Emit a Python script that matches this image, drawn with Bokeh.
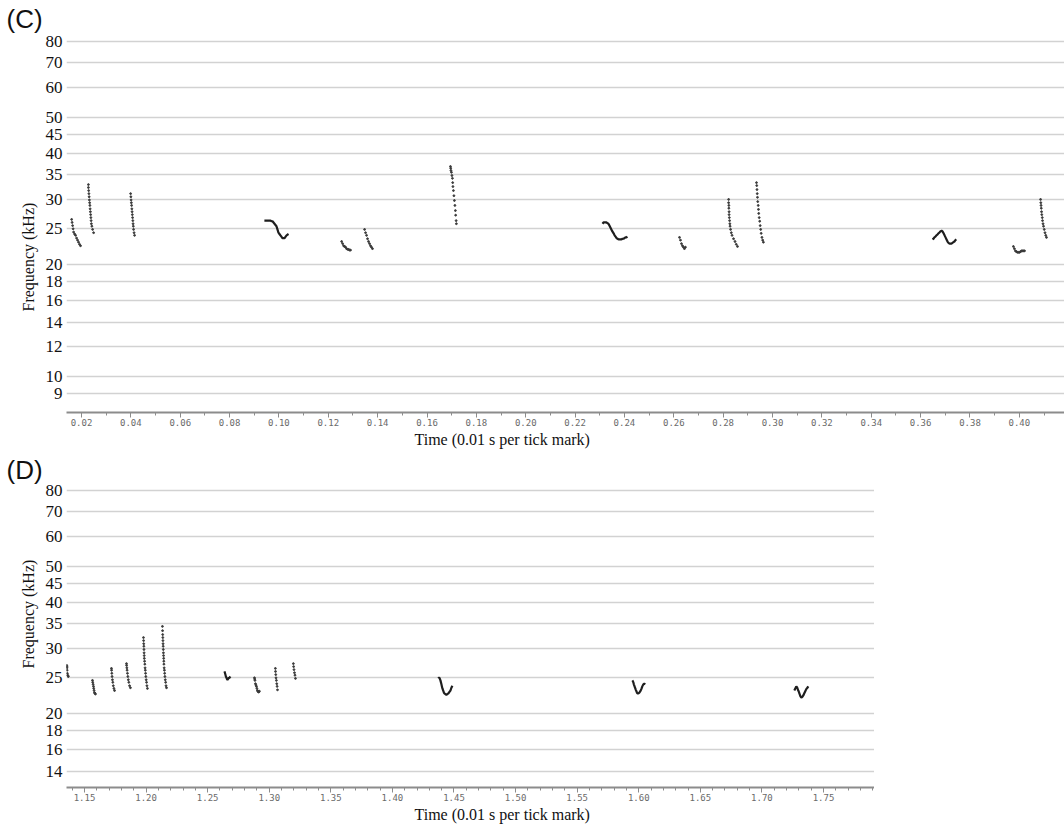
from bokeh.plotting import figure
from bokeh.models import (FixedTicker, SingleIntervalTicker, PrintfTickFormatter,
                          Title, Range1d)
from bokeh.layouts import column
from bokeh.embed import file_html
from bokeh.resources import INLINE

# ---------------------------------------------------------------------------
# Frequency grid (kHz) for the two sonogram panels
c_freq_ticks = [9, 10, 12, 14, 16, 18, 20, 25, 30, 35, 40, 45, 50, 60, 70, 80]
d_freq_ticks = [14, 16, 18, 20, 25, 30, 35, 40, 45, 50, 60, 70, 80]

# Panel C: each call is a list of pulse times (s) and frequencies (kHz)
c_times = [
    [0.0160, 0.0162, 0.0164, 0.0166, 0.0168, 0.0172, 0.0176, 0.0180, 0.0184, 0.0188, 0.0192, 0.0196],
    [0.0228, 0.0228, 0.0229, 0.0230, 0.0231, 0.0232, 0.0233, 0.0234, 0.0235, 0.0236, 0.0237, 0.0238,
     0.0239, 0.0240, 0.0242, 0.0245, 0.0249],
    [0.0399, 0.0400, 0.0401, 0.0402, 0.0403, 0.0404, 0.0405, 0.0406, 0.0407, 0.0408, 0.0409, 0.0410,
     0.0411, 0.0413, 0.0415],
    [0.0941, 0.0945, 0.0950, 0.0954, 0.0958, 0.0962, 0.0966, 0.0970, 0.0974, 0.0978, 0.0982, 0.0986,
     0.0990, 0.0994, 0.0998, 0.1002, 0.1006, 0.1010, 0.1014, 0.1019, 0.1023, 0.1027, 0.1031, 0.1035, 0.1039],
    [0.1254, 0.1258, 0.1262, 0.1266, 0.1270, 0.1274, 0.1278, 0.1282, 0.1286, 0.1290],
    [0.1347, 0.1351, 0.1355, 0.1359, 0.1363, 0.1367, 0.1371, 0.1375, 0.1379],
    [0.1695, 0.1696, 0.1697, 0.1699, 0.1701, 0.1703, 0.1704, 0.1705, 0.1707, 0.1709, 0.1711, 0.1713,
     0.1715, 0.1716, 0.1718, 0.1719],
    [0.2311, 0.2315, 0.2319, 0.2323, 0.2327, 0.2331, 0.2335, 0.2339, 0.2343, 0.2347, 0.2351, 0.2356,
     0.2360, 0.2364, 0.2368, 0.2372, 0.2376, 0.2380, 0.2384, 0.2388, 0.2392, 0.2396, 0.2400, 0.2404,
     0.2408, 0.2412],
    [0.2623, 0.2627, 0.2631, 0.2635, 0.2639, 0.2643, 0.2647],
    [0.2822, 0.2822, 0.2823, 0.2823, 0.2824, 0.2824, 0.2825, 0.2826, 0.2827, 0.2828, 0.2830, 0.2833,
     0.2836, 0.2842, 0.2848, 0.2853, 0.2858],
    [0.2935, 0.2936, 0.2937, 0.2938, 0.2939, 0.2940, 0.2942, 0.2943, 0.2944, 0.2946, 0.2948, 0.2950,
     0.2952, 0.2954, 0.2957, 0.2960, 0.2963],
    [0.3648, 0.3652, 0.3656, 0.3660, 0.3664, 0.3668, 0.3672, 0.3676, 0.3680, 0.3685, 0.3689, 0.3693,
     0.3697, 0.3701, 0.3705, 0.3709, 0.3713, 0.3717, 0.3721, 0.3725, 0.3729, 0.3733, 0.3737, 0.3741, 0.3745],
    [0.3976, 0.3980, 0.3984, 0.3988, 0.3992, 0.3997, 0.4001, 0.4005, 0.4009, 0.4013, 0.4017, 0.4021],
    [0.4086, 0.4087, 0.4088, 0.4089, 0.4090, 0.4091, 0.4093, 0.4094, 0.4096, 0.4098, 0.4101, 0.4104,
     0.4107, 0.4110],
]
c_freqs = [
    [26.5, 26.0, 25.5, 25.0, 24.5, 24.2, 24.0, 23.6, 23.3, 23.0, 22.7, 22.5],
    [32.9, 32.3, 31.7, 31.1, 30.5, 29.9, 29.4, 28.9, 28.3, 27.8, 27.3, 26.8, 26.3, 25.8, 25.4, 24.9, 24.4],
    [31.1, 30.5, 29.9, 29.4, 28.9, 28.3, 27.8, 27.3, 26.8, 26.3, 25.8, 25.4, 24.9, 24.4, 24.0],
    [26.3, 26.3, 26.3, 26.3, 26.3, 26.3, 26.3, 26.2, 26.2, 26.0, 25.8, 25.6, 25.4, 24.9, 24.4, 24.2,
     24.0, 23.8, 23.6, 23.6, 23.6, 23.8, 24.0, 24.1, 24.2],
    [23.1, 22.8, 22.5, 22.4, 22.3, 22.1, 22.0, 22.0, 21.9, 21.9],
    [24.9, 24.4, 24.0, 23.5, 23.1, 22.8, 22.5, 22.3, 22.1],
    [36.8, 36.4, 35.9, 35.5, 34.8, 34.2, 33.3, 32.5, 31.7, 30.7, 29.8, 28.9, 28.0, 27.2, 26.3, 25.8],
    [25.8, 26.0, 26.0, 26.0, 26.0, 25.9, 25.8, 25.5, 25.2, 24.9, 24.6, 24.3, 24.0, 23.8, 23.6, 23.5,
     23.4, 23.4, 23.4, 23.4, 23.5, 23.5, 23.6, 23.7, 23.7, 23.8],
    [23.7, 23.3, 22.8, 22.5, 22.3, 22.1, 22.3],
    [30.0, 29.4, 28.9, 28.4, 27.8, 27.3, 26.8, 26.3, 25.8, 25.4, 24.9, 24.4, 24.0, 23.5, 23.1, 22.7, 22.4],
    [33.3, 32.7, 31.9, 31.1, 30.4, 29.6, 28.9, 28.2, 27.5, 26.8, 26.2, 25.5, 24.9, 24.3, 23.7, 23.3, 23.0],
    [23.4, 23.5, 23.7, 23.8, 24.0, 24.1, 24.3, 24.4, 24.6, 24.7, 24.6, 24.3, 24.0, 23.7, 23.4, 23.1,
     22.9, 22.8, 22.8, 22.8, 22.9, 23.0, 23.1, 23.3, 23.4],
    [22.4, 22.1, 21.8, 21.7, 21.6, 21.6, 21.6, 21.7, 21.8, 21.8, 21.8, 21.8],
    [30.0, 29.4, 28.9, 28.4, 27.8, 27.3, 26.8, 26.3, 25.8, 25.4, 24.9, 24.4, 24.0, 23.7],
]
# calls traced as a continuous contour rather than separate pulses
c_dense = [False, False, False, True, False, False, False, True, False, False, False, True, False, False]

# Panel D
d_times = [
    [1.1356, 1.1357, 1.1358, 1.1359, 1.1361, 1.1363, 1.1366, 1.1369],
    [1.1565, 1.1567, 1.1570, 1.1573, 1.1575, 1.1578, 1.1581, 1.1585, 1.1589],
    [1.1719, 1.1720, 1.1722, 1.1724, 1.1727, 1.1730, 1.1734, 1.1739, 1.1744],
    [1.1841, 1.1842, 1.1844, 1.1846, 1.1849, 1.1852, 1.1856, 1.1860, 1.1866, 1.1873],
    [1.1979, 1.1980, 1.1981, 1.1982, 1.1983, 1.1984, 1.1985, 1.1986, 1.1988, 1.1990, 1.1992, 1.1994,
     1.1996, 1.1998, 1.2001, 1.2004, 1.2007, 1.2011],
    [1.2133, 1.2134, 1.2135, 1.2136, 1.2137, 1.2138, 1.2139, 1.2140, 1.2141, 1.2142, 1.2143, 1.2144,
     1.2145, 1.2147, 1.2149, 1.2151, 1.2153, 1.2156, 1.2159, 1.2162, 1.2166],
    [1.2636, 1.2640, 1.2644, 1.2648, 1.2653, 1.2657, 1.2661, 1.2665, 1.2669, 1.2673, 1.2677, 1.2681, 1.2685],
    [1.2880, 1.2882, 1.2884, 1.2888, 1.2892, 1.2896, 1.2900, 1.2904, 1.2908, 1.2912, 1.2916, 1.2920],
    [1.3050, 1.3051, 1.3053, 1.3055, 1.3058, 1.3061, 1.3064, 1.3067],
    [1.3196, 1.3198, 1.3201, 1.3205, 1.3209, 1.3213],
    [1.4373, 1.4377, 1.4381, 1.4386, 1.4390, 1.4394, 1.4398, 1.4402, 1.4406, 1.4410, 1.4414, 1.4418,
     1.4422, 1.4430, 1.4438, 1.4446, 1.4455, 1.4463, 1.4471, 1.4479, 1.4487],
    [1.5948, 1.5952, 1.5956, 1.5960, 1.5964, 1.5968, 1.5972, 1.5976, 1.5981, 1.5985, 1.5989, 1.5997,
     1.6005, 1.6013, 1.6021, 1.6029, 1.6037, 1.6045, 1.6053],
    [1.7263, 1.7271, 1.7279, 1.7287, 1.7295, 1.7300, 1.7304, 1.7308, 1.7312, 1.7316, 1.7320, 1.7328,
     1.7336, 1.7344, 1.7352, 1.7360, 1.7369, 1.7377],
]
d_freqs = [
    [27.0, 26.8, 26.6, 26.2, 25.7, 25.4, 25.3, 25.2],
    [24.6, 24.3, 24.0, 23.7, 23.4, 23.1, 22.8, 22.7, 22.6],
    [26.5, 26.2, 25.7, 25.2, 24.7, 24.3, 23.8, 23.4, 23.1],
    [27.3, 27.0, 26.6, 26.2, 25.7, 25.2, 24.7, 24.3, 23.8, 23.5],
    [32.1, 31.5, 30.9, 30.4, 29.8, 29.2, 28.7, 28.2, 27.7, 27.2, 26.6, 26.2, 25.7, 25.2, 24.7, 24.3, 23.8, 23.4],
    [34.4, 33.5, 32.7, 32.1, 31.5, 30.9, 30.4, 29.8, 29.2, 28.7, 28.2, 27.7, 27.2, 26.6, 26.2, 25.7,
     25.2, 24.7, 24.3, 23.8, 23.5],
    [26.0, 25.8, 25.5, 25.2, 25.0, 24.8, 24.7, 24.8, 24.9, 25.0, 25.0, 25.1, 25.2],
    [25.0, 24.8, 24.6, 24.1, 23.9, 23.7, 23.4, 23.1, 23.0, 22.9, 22.9, 23.0],
    [26.5, 26.0, 25.5, 25.0, 24.6, 24.1, 23.7, 23.2],
    [27.3, 26.8, 26.3, 25.8, 25.4, 24.9],
    [24.9, 25.0, 25.0, 24.8, 24.6, 24.3, 24.0, 23.7, 23.4, 23.2, 23.0, 22.8, 22.7, 22.6, 22.5, 22.6,
     22.7, 22.9, 23.1, 23.5, 23.8],
    [24.6, 24.5, 24.3, 24.0, 23.8, 23.6, 23.4, 23.2, 23.0, 22.8, 22.7, 22.7, 22.8, 23.0, 23.3, 23.7,
     24.0, 24.1, 24.0],
    [23.1, 23.4, 23.7, 23.5, 23.1, 22.9, 22.7, 22.5, 22.3, 22.2, 22.1, 22.2, 22.4, 22.7, 23.0, 23.3,
     23.5, 23.7],
]
d_dense = [False, False, False, False, False, False, True, False, False, False, True, True, True]

SERIF = "Liberation Serif"
GRID = "#d2d2d2"
AXIS = "#8c8c8c"
INK = "#111111"


def panel(width, height, top, bottom, x_range, y_range, freq_ticks, x_interval, x_minor,
          times, freqs, dense, tag, tag_standoff, ylab_offset, xlab_offset):
    p = figure(width=width, height=height, output_backend="svg", toolbar_location=None,
               y_axis_type="log", x_range=Range1d(*x_range), y_range=Range1d(*y_range),
               min_border_left=66, min_border_right=0, min_border_top=top,
               min_border_bottom=bottom)
    p.outline_line_color = None
    p.background_fill_color = "white"
    p.border_fill_color = "white"

    # panel tag in the top-left corner
    p.title.text = tag
    p.title.align = "left"
    p.title.offset = -60
    p.title.standoff = tag_standoff
    p.title.text_font = "Liberation Sans"
    p.title.text_font_size = "26px"
    p.title.text_font_style = "normal"
    p.title.text_color = INK

    # frequency axis: labels only, grid lines carry the scale
    p.yaxis.ticker = FixedTicker(ticks=freq_ticks, minor_ticks=[])
    p.yaxis.formatter = PrintfTickFormatter(format="%d")
    p.yaxis.axis_line_color = None
    p.yaxis.major_tick_line_color = None
    p.yaxis.minor_tick_line_color = None
    p.yaxis.major_tick_out = 0
    p.yaxis.major_label_standoff = 4
    p.yaxis.major_label_text_font = SERIF
    p.yaxis.major_label_text_font_size = "17px"
    p.yaxis.major_label_text_color = INK
    p.ygrid.ticker = FixedTicker(ticks=freq_ticks, minor_ticks=[])
    p.ygrid.grid_line_color = GRID
    p.ygrid.grid_line_width = 1.6
    p.xgrid.grid_line_color = None

    # time axis
    p.xaxis.ticker = SingleIntervalTicker(interval=x_interval, num_minor_ticks=x_minor)
    p.xaxis.formatter = PrintfTickFormatter(format="%.2f")
    p.xaxis.axis_line_color = AXIS
    p.xaxis.axis_line_width = 2
    p.xaxis.major_tick_line_color = AXIS
    p.xaxis.minor_tick_line_color = AXIS
    p.xaxis.major_tick_out = 5
    p.xaxis.major_tick_in = 0
    p.xaxis.minor_tick_out = 3
    p.xaxis.minor_tick_in = 0
    p.xaxis.major_label_standoff = 1
    p.xaxis.major_label_text_font = "DejaVu Sans Mono"
    p.xaxis.major_label_text_font_size = "9px"
    p.xaxis.major_label_text_color = "#6a6a6a"

    p.add_layout(Title(text="Time (0.01 s per tick mark)", align="left", offset=xlab_offset,
                       standoff=0, text_font=SERIF, text_font_size="16px",
                       text_font_style="normal", text_color=INK), "below")
    p.add_layout(Title(text="Frequency (kHz)", align="left", offset=ylab_offset,
                       standoff=12, text_font=SERIF, text_font_size="16px",
                       text_font_style="normal", text_color=INK), "left")

    for t, f, d in zip(times, freqs, dense):
        if d:
            p.line(t, f, line_color="#1e1e1e", line_width=2.2)
        else:
            p.scatter(t, f, size=1.8, marker="circle", color="#3a3a3a")
    return p


pc = panel(1064, 455, 31, 43, (0.01392, 0.4183), (7.99, 85.1), c_freq_ticks, 0.02, 2,
           c_times, c_freqs, c_dense, "(C)", -4, 101, 348)
pd = panel(874, 370, 25, 38, (1.1354, 1.7914), (12.65, 85.1), d_freq_ticks, 0.05, 5,
           d_times, d_freqs, d_dense, "(D)", -9, 119, 348)

layout = column(pc, pd, spacing=0)
open("out.html", "w").write(file_html(layout, INLINE))
